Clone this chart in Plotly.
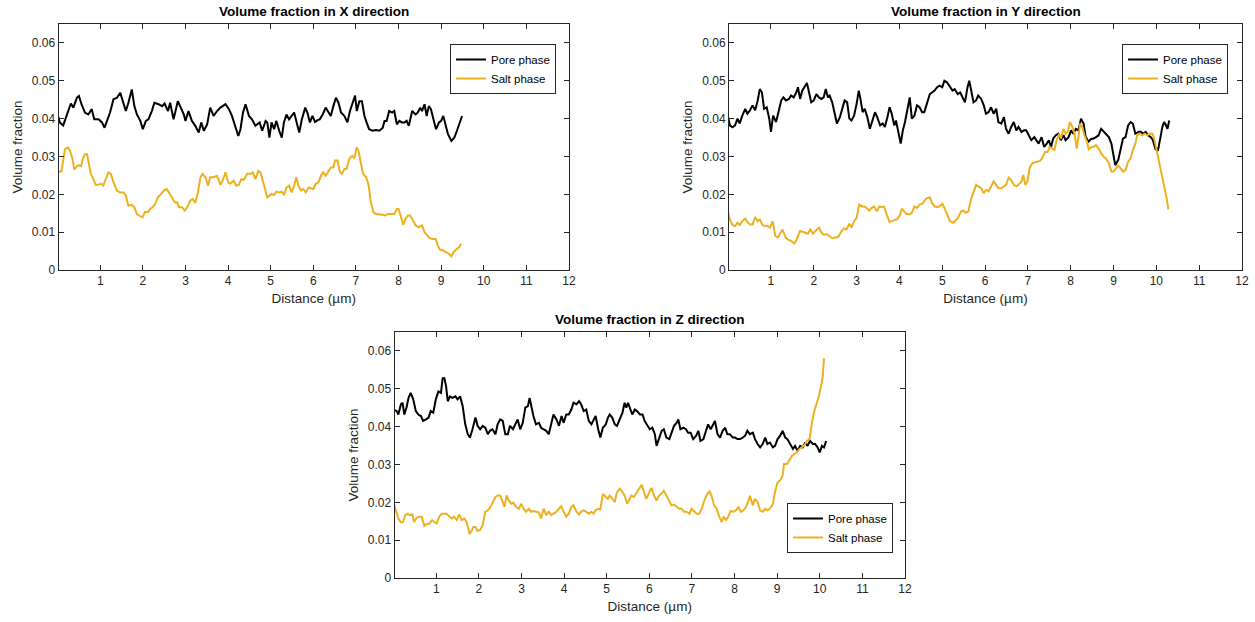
import plotly.graph_objects as go

# ---------------- data (distance in µm, volume fraction) ----------------
PORE_X_DIST = [
0.00,0.05,0.13,0.21,0.27,0.31,0.37,0.45,0.50,0.56,
0.64,0.72,0.80,0.86,0.96,1.04,1.10,1.18,1.23,1.31,
1.39,1.47,1.52,1.60,1.66,1.74,1.80,1.86,1.94,2.00,
2.07,2.13,2.21,2.27,2.37,2.45,2.51,2.59,2.64,2.72,
2.82,2.90,2.96,3.00,3.07,3.15,3.23,3.31,3.37,3.43,
3.51,3.58,3.66,3.74,3.82,3.94,4.02,4.09,4.17,4.24,
4.29,4.35,4.41,4.49,4.56,4.64,4.74,4.80,4.88,4.92,
4.97,5.02,5.08,5.13,5.20,5.26,5.31,5.37,5.43,5.49,
5.55,5.60,5.67,5.73,5.81,5.86,5.92,5.98,6.04,6.10,
6.15,6.22,6.29,6.36,6.41,6.47,6.53,6.59,6.65,6.73,
6.80,6.86,6.92,6.98,7.02,7.08,7.14,7.20,7.25,7.31,
7.39,7.47,7.55,7.63,7.67,7.72,7.78,7.85,7.90,7.96,
8.02,8.08,8.14,8.19,8.24,8.32,8.40,8.45,8.51,8.55,
8.61,8.66,8.71,8.76,8.82,8.88,8.95,9.00,9.05,9.10,
9.16,9.24,9.31,9.37,9.43,9.49]
PORE_X_VAL = [
0.0411,0.0390,0.0382,0.0407,0.0425,0.0440,0.0429,0.0455,0.0460,0.0438,
0.0416,0.0411,0.0425,0.0398,0.0398,0.0390,0.0376,0.0403,0.0416,0.0451,
0.0455,0.0468,0.0451,0.0420,0.0442,0.0477,0.0433,0.0411,0.0394,0.0372,
0.0394,0.0398,0.0420,0.0442,0.0438,0.0433,0.0440,0.0420,0.0442,0.0398,
0.0446,0.0425,0.0411,0.0394,0.0420,0.0394,0.0381,0.0363,0.0390,0.0368,
0.0385,0.0429,0.0407,0.0420,0.0429,0.0438,0.0425,0.0407,0.0376,0.0354,
0.0372,0.0416,0.0438,0.0407,0.0398,0.0381,0.0390,0.0368,0.0394,0.0390,
0.0350,0.0390,0.0372,0.0394,0.0368,0.0350,0.0390,0.0411,0.0398,0.0407,
0.0416,0.0394,0.0363,0.0398,0.0429,0.0416,0.0390,0.0407,0.0391,0.0396,
0.0398,0.0411,0.0429,0.0416,0.0407,0.0433,0.0455,0.0442,0.0416,0.0407,
0.0390,0.0420,0.0438,0.0461,0.0420,0.0446,0.0446,0.0407,0.0390,0.0372,
0.0368,0.0370,0.0368,0.0376,0.0394,0.0394,0.0420,0.0416,0.0420,0.0385,
0.0394,0.0390,0.0390,0.0394,0.0381,0.0420,0.0411,0.0416,0.0429,0.0420,
0.0438,0.0407,0.0433,0.0425,0.0398,0.0372,0.0390,0.0394,0.0407,0.0385,
0.0359,0.0341,0.0350,0.0368,0.0385,0.0407]

SALT_X_DIST = [
0.00,0.09,0.17,0.24,0.29,0.35,0.39,0.45,0.50,0.55,
0.59,0.64,0.69,0.74,0.78,0.84,0.89,0.96,1.02,1.07,
1.13,1.19,1.25,1.31,1.39,1.47,1.55,1.60,1.66,1.74,
1.80,1.86,1.94,1.99,2.05,2.12,2.17,2.23,2.29,2.35,
2.43,2.49,2.56,2.62,2.68,2.75,2.80,2.85,2.92,2.98,
3.04,3.11,3.17,3.23,3.29,3.35,3.40,3.47,3.53,3.58,
3.66,3.74,3.82,3.87,3.94,4.00,4.05,4.13,4.19,4.25,
4.31,4.37,4.45,4.53,4.58,4.64,4.71,4.76,4.84,4.92,
5.02,5.08,5.13,5.20,5.26,5.31,5.37,5.43,5.49,5.55,
5.60,5.65,5.71,5.76,5.82,5.89,5.94,6.00,6.06,6.12,
6.18,6.23,6.29,6.36,6.41,6.47,6.51,6.57,6.62,6.67,
6.73,6.78,6.84,6.91,6.96,7.02,7.06,7.12,7.17,7.24,
7.30,7.35,7.41,7.47,7.55,7.63,7.69,7.75,7.82,7.90,
7.96,8.00,8.06,8.11,8.16,8.22,8.27,8.33,8.40,8.47,
8.55,8.61,8.66,8.73,8.80,8.87,8.92,8.98,9.04,9.12,
9.18,9.24,9.29,9.35,9.42,9.47]
SALT_X_VAL = [
0.0260,0.0260,0.0319,0.0324,0.0315,0.0293,0.0265,0.0274,0.0277,0.0274,
0.0293,0.0306,0.0306,0.0280,0.0254,0.0240,0.0225,0.0225,0.0228,0.0223,
0.0240,0.0258,0.0254,0.0232,0.0210,0.0205,0.0205,0.0196,0.0170,0.0172,
0.0166,0.0148,0.0142,0.0139,0.0154,0.0153,0.0161,0.0166,0.0175,0.0192,
0.0201,0.0210,0.0214,0.0201,0.0192,0.0179,0.0179,0.0166,0.0166,0.0157,
0.0166,0.0183,0.0188,0.0177,0.0205,0.0245,0.0254,0.0245,0.0223,0.0245,
0.0245,0.0249,0.0225,0.0236,0.0258,0.0232,0.0228,0.0236,0.0223,0.0225,
0.0240,0.0238,0.0254,0.0254,0.0258,0.0240,0.0262,0.0258,0.0228,0.0192,
0.0201,0.0198,0.0207,0.0205,0.0207,0.0198,0.0218,0.0223,0.0205,0.0223,
0.0245,0.0223,0.0210,0.0214,0.0205,0.0218,0.0216,0.0214,0.0228,0.0232,
0.0249,0.0258,0.0249,0.0262,0.0271,0.0271,0.0289,0.0289,0.0260,0.0254,
0.0267,0.0267,0.0293,0.0302,0.0295,0.0324,0.0315,0.0280,0.0254,0.0245,
0.0223,0.0179,0.0153,0.0148,0.0148,0.0146,0.0144,0.0148,0.0148,0.0148,
0.0161,0.0161,0.0139,0.0119,0.0135,0.0144,0.0144,0.0131,0.0118,0.0113,
0.0118,0.0100,0.0093,0.0084,0.0082,0.0082,0.0065,0.0052,0.0052,0.0047,
0.0043,0.0036,0.0047,0.0054,0.0060,0.0069]

PORE_Y_DIST = [
0.00,0.04,0.10,0.16,0.22,0.27,0.33,0.40,0.45,0.51,
0.57,0.63,0.69,0.74,0.79,0.84,0.90,0.96,1.00,1.05,
1.12,1.18,1.24,1.29,1.35,1.42,1.47,1.53,1.59,1.63,
1.68,1.73,1.78,1.84,1.89,1.94,2.00,2.06,2.12,2.18,
2.23,2.28,2.33,2.37,2.43,2.49,2.54,2.61,2.67,2.72,
2.78,2.83,2.88,2.94,3.00,3.05,3.09,3.14,3.19,3.25,
3.31,3.37,3.43,3.48,3.55,3.61,3.66,3.72,3.77,3.82,
3.88,3.92,3.98,4.03,4.08,4.13,4.19,4.24,4.29,4.35,
4.41,4.47,4.53,4.58,4.64,4.71,4.76,4.82,4.88,4.94,
5.00,5.05,5.11,5.18,5.24,5.29,5.36,5.42,5.47,5.53,
5.59,5.63,5.67,5.73,5.79,5.84,5.91,5.97,6.02,6.08,
6.14,6.20,6.26,6.31,6.38,6.44,6.49,6.55,6.61,6.67,
6.73,6.78,6.85,6.91,6.96,7.02,7.08,7.15,7.20,7.25,
7.32,7.38,7.44,7.49,7.54,7.59,7.65,7.71,7.77,7.83,
7.88,7.95,8.01,8.06,8.12,8.18,8.24,8.30,8.35,8.42,
8.48,8.53,8.59,8.65,8.71,8.77,8.82,8.89,8.95,9.00,
9.04,9.11,9.16,9.22,9.28,9.34,9.40,9.45,9.51,9.58,
9.63,9.69,9.75,9.81,9.87,9.92,9.98,10.04,10.09,10.14,
10.18,10.22,10.26,10.30]
PORE_Y_VAL = [
0.0404,0.0382,0.0377,0.0382,0.0400,0.0387,0.0408,0.0426,0.0413,0.0422,
0.0435,0.0422,0.0448,0.0478,0.0469,0.0426,0.0430,0.0400,0.0365,0.0408,
0.0391,0.0417,0.0448,0.0456,0.0448,0.0452,0.0461,0.0456,0.0469,0.0483,
0.0452,0.0474,0.0483,0.0494,0.0469,0.0443,0.0448,0.0465,0.0456,0.0452,
0.0456,0.0478,0.0456,0.0461,0.0443,0.0408,0.0387,0.0404,0.0430,0.0448,
0.0443,0.0400,0.0395,0.0408,0.0439,0.0474,0.0452,0.0417,0.0426,0.0404,
0.0373,0.0395,0.0417,0.0404,0.0382,0.0387,0.0378,0.0404,0.0430,0.0413,
0.0382,0.0395,0.0360,0.0334,0.0369,0.0391,0.0426,0.0456,0.0400,0.0408,
0.0435,0.0430,0.0417,0.0417,0.0439,0.0465,0.0469,0.0474,0.0483,0.0487,
0.0483,0.0500,0.0496,0.0483,0.0474,0.0478,0.0465,0.0469,0.0456,0.0443,
0.0483,0.0500,0.0478,0.0443,0.0448,0.0461,0.0452,0.0435,0.0413,0.0417,
0.0430,0.0413,0.0426,0.0391,0.0387,0.0404,0.0373,0.0360,0.0378,0.0391,
0.0369,0.0378,0.0365,0.0369,0.0369,0.0356,0.0343,0.0351,0.0343,0.0334,
0.0351,0.0325,0.0334,0.0343,0.0325,0.0347,0.0356,0.0360,0.0343,0.0356,
0.0343,0.0351,0.0369,0.0360,0.0373,0.0369,0.0400,0.0387,0.0351,0.0339,
0.0347,0.0347,0.0351,0.0356,0.0373,0.0365,0.0360,0.0351,0.0334,0.0299,
0.0277,0.0291,0.0321,0.0347,0.0351,0.0382,0.0391,0.0387,0.0360,0.0365,
0.0366,0.0360,0.0365,0.0356,0.0351,0.0343,0.0319,0.0317,0.0347,0.0378,
0.0391,0.0384,0.0373,0.0395]

SALT_Y_DIST = [
0.00,0.04,0.10,0.16,0.22,0.27,0.33,0.40,0.45,0.51,
0.57,0.63,0.69,0.74,0.80,0.87,0.92,0.98,1.04,1.10,
1.16,1.21,1.27,1.34,1.39,1.47,1.55,1.60,1.68,1.74,
1.81,1.86,1.92,1.98,2.04,2.12,2.18,2.23,2.31,2.37,
2.43,2.51,2.57,2.65,2.70,2.76,2.83,2.88,2.94,3.00,
3.06,3.12,3.17,3.23,3.30,3.35,3.41,3.47,3.53,3.59,
3.64,3.70,3.77,3.82,3.88,3.94,4.00,4.06,4.11,4.17,
4.24,4.29,4.35,4.41,4.47,4.53,4.58,4.64,4.71,4.76,
4.82,4.88,4.94,5.00,5.05,5.11,5.18,5.26,5.32,5.37,
5.44,5.50,5.55,5.61,5.67,5.73,5.79,5.84,5.91,5.97,
6.02,6.08,6.14,6.20,6.26,6.31,6.38,6.44,6.49,6.55,
6.61,6.67,6.73,6.78,6.85,6.89,6.94,6.99,7.04,7.10,
7.16,7.22,7.28,7.33,7.40,7.46,7.51,7.57,7.62,7.67,
7.73,7.77,7.83,7.88,7.93,7.98,8.04,8.09,8.14,8.18,
8.22,8.27,8.32,8.38,8.42,8.48,8.53,8.59,8.65,8.71,
8.77,8.82,8.89,8.95,9.00,9.06,9.11,9.16,9.22,9.28,
9.34,9.40,9.45,9.51,9.55,9.61,9.67,9.73,9.79,9.84,
9.91,9.95,10.00,10.06,10.13,10.18,10.24,10.28]
SALT_Y_VAL = [
0.0151,0.0134,0.0119,0.0116,0.0125,0.0119,0.0129,0.0136,0.0127,0.0120,
0.0120,0.0140,0.0129,0.0134,0.0119,0.0116,0.0116,0.0112,0.0129,0.0090,
0.0086,0.0094,0.0107,0.0086,0.0081,0.0077,0.0070,0.0081,0.0103,0.0101,
0.0099,0.0096,0.0107,0.0096,0.0103,0.0112,0.0099,0.0094,0.0094,0.0090,
0.0084,0.0086,0.0087,0.0103,0.0110,0.0107,0.0122,0.0112,0.0129,0.0138,
0.0173,0.0168,0.0168,0.0164,0.0157,0.0164,0.0168,0.0155,0.0168,0.0166,
0.0168,0.0147,0.0127,0.0129,0.0131,0.0134,0.0142,0.0162,0.0155,0.0148,
0.0147,0.0151,0.0168,0.0164,0.0173,0.0175,0.0182,0.0190,0.0192,0.0177,
0.0168,0.0166,0.0168,0.0175,0.0164,0.0147,0.0129,0.0125,0.0131,0.0138,
0.0155,0.0157,0.0151,0.0155,0.0186,0.0208,0.0225,0.0221,0.0216,0.0203,
0.0212,0.0208,0.0221,0.0234,0.0225,0.0216,0.0216,0.0221,0.0225,0.0244,
0.0238,0.0225,0.0221,0.0225,0.0234,0.0251,0.0225,0.0234,0.0269,0.0282,
0.0284,0.0286,0.0288,0.0295,0.0312,0.0312,0.0325,0.0321,0.0317,0.0343,
0.0360,0.0347,0.0373,0.0360,0.0365,0.0391,0.0378,0.0360,0.0321,0.0351,
0.0387,0.0378,0.0356,0.0339,0.0319,0.0325,0.0325,0.0330,0.0321,0.0308,
0.0299,0.0295,0.0282,0.0260,0.0260,0.0269,0.0276,0.0269,0.0260,0.0264,
0.0286,0.0295,0.0317,0.0334,0.0356,0.0360,0.0356,0.0360,0.0356,0.0360,
0.0360,0.0347,0.0321,0.0286,0.0251,0.0221,0.0190,0.0160]

PORE_Z_DIST = [
0.00,0.07,0.11,0.17,0.21,0.25,0.30,0.35,0.40,0.46,
0.52,0.58,0.64,0.69,0.76,0.82,0.87,0.93,0.99,1.05,
1.11,1.15,1.19,1.23,1.27,1.32,1.38,1.45,1.50,1.56,
1.62,1.68,1.74,1.79,1.85,1.92,1.97,2.03,2.09,2.15,
2.21,2.26,2.32,2.39,2.44,2.50,2.56,2.62,2.68,2.73,
2.80,2.86,2.91,2.97,3.03,3.09,3.15,3.19,3.23,3.28,
3.34,3.41,3.46,3.52,3.58,3.64,3.70,3.75,3.82,3.88,
3.94,3.99,4.05,4.11,4.17,4.22,4.29,4.35,4.40,4.46,
4.52,4.58,4.64,4.69,4.74,4.80,4.85,4.91,4.98,5.03,
5.07,5.13,5.19,5.24,5.31,5.37,5.42,5.46,5.50,5.56,
5.60,5.66,5.71,5.78,5.84,5.89,5.95,6.01,6.07,6.13,
6.17,6.23,6.29,6.34,6.40,6.47,6.52,6.58,6.64,6.68,
6.73,6.80,6.86,6.91,6.97,7.03,7.10,7.15,7.20,7.27,
7.33,7.38,7.44,7.50,7.54,7.60,7.66,7.72,7.78,7.83,
7.89,7.96,8.01,8.07,8.13,8.19,8.25,8.30,8.36,8.43,
8.48,8.54,8.60,8.66,8.72,8.77,8.83,8.90,8.95,9.01,
9.07,9.13,9.19,9.24,9.30,9.37,9.42,9.48,9.54,9.60,
9.66,9.71,9.77,9.84,9.89,9.95,10.00,10.05,10.10,10.15]
PORE_Z_VAL = [
0.0445,0.0441,0.0432,0.0459,0.0463,0.0432,0.0450,0.0476,0.0489,0.0472,
0.0441,0.0432,0.0428,0.0415,0.0419,0.0424,0.0441,0.0437,0.0472,0.0493,
0.0489,0.0528,0.0528,0.0507,0.0467,0.0480,0.0476,0.0480,0.0472,0.0480,
0.0454,0.0406,0.0380,0.0371,0.0393,0.0424,0.0402,0.0393,0.0402,0.0397,
0.0380,0.0389,0.0393,0.0380,0.0406,0.0419,0.0415,0.0380,0.0380,0.0402,
0.0393,0.0410,0.0419,0.0393,0.0410,0.0450,0.0454,0.0476,0.0454,0.0428,
0.0406,0.0410,0.0397,0.0393,0.0389,0.0380,0.0406,0.0432,0.0419,0.0402,
0.0428,0.0410,0.0432,0.0432,0.0445,0.0463,0.0459,0.0467,0.0459,0.0441,
0.0445,0.0415,0.0406,0.0419,0.0428,0.0393,0.0371,0.0397,0.0406,0.0424,
0.0432,0.0424,0.0406,0.0402,0.0419,0.0437,0.0463,0.0450,0.0463,0.0445,
0.0432,0.0445,0.0441,0.0432,0.0432,0.0415,0.0402,0.0393,0.0397,0.0380,
0.0349,0.0371,0.0389,0.0393,0.0371,0.0367,0.0384,0.0402,0.0410,0.0419,
0.0393,0.0397,0.0393,0.0384,0.0384,0.0367,0.0376,0.0389,0.0362,0.0367,
0.0389,0.0406,0.0393,0.0406,0.0415,0.0380,0.0371,0.0389,0.0397,0.0380,
0.0380,0.0371,0.0371,0.0367,0.0367,0.0371,0.0376,0.0389,0.0380,0.0384,
0.0367,0.0354,0.0345,0.0354,0.0371,0.0354,0.0358,0.0345,0.0349,0.0367,
0.0376,0.0389,0.0371,0.0367,0.0354,0.0341,0.0349,0.0336,0.0349,0.0345,
0.0358,0.0349,0.0362,0.0354,0.0354,0.0345,0.0332,0.0349,0.0345,0.0362]

SALT_Z_DIST = [
0.00,0.07,0.11,0.17,0.22,0.27,0.33,0.38,0.44,0.48,
0.54,0.60,0.66,0.72,0.77,0.84,0.90,0.95,1.01,1.07,
1.13,1.19,1.24,1.31,1.37,1.42,1.48,1.54,1.60,1.66,
1.71,1.78,1.82,1.87,1.92,1.97,2.03,2.09,2.15,2.21,
2.26,2.33,2.39,2.44,2.50,2.56,2.60,2.65,2.70,2.76,
2.81,2.87,2.94,2.99,3.05,3.11,3.17,3.23,3.28,3.35,
3.41,3.46,3.52,3.58,3.64,3.70,3.75,3.82,3.88,3.93,
3.99,4.05,4.11,4.17,4.22,4.29,4.35,4.40,4.46,4.52,
4.58,4.64,4.69,4.74,4.80,4.85,4.91,4.98,5.03,5.07,
5.13,5.19,5.24,5.31,5.37,5.42,5.48,5.53,5.58,5.64,
5.70,5.76,5.82,5.87,5.93,6.00,6.05,6.11,6.17,6.23,
6.29,6.34,6.40,6.47,6.52,6.58,6.64,6.70,6.76,6.81,
6.87,6.94,6.99,7.05,7.11,7.17,7.23,7.28,7.34,7.41,
7.46,7.52,7.58,7.64,7.70,7.74,7.80,7.85,7.91,7.97,
8.04,8.09,8.15,8.21,8.27,8.33,8.36,8.43,8.48,8.54,
8.60,8.66,8.72,8.77,8.83,8.90,8.95,9.01,9.07,9.13,
9.16,9.23,9.29,9.35,9.40,9.46,9.52,9.58,9.64,9.70,
9.76,9.81,9.87,9.92,9.97,10.03,10.07,10.10]
SALT_Z_VAL = [
0.0199,0.0175,0.0157,0.0147,0.0148,0.0166,0.0170,0.0166,0.0168,0.0148,
0.0159,0.0162,0.0162,0.0138,0.0142,0.0144,0.0153,0.0148,0.0144,0.0162,
0.0170,0.0170,0.0170,0.0162,0.0157,0.0162,0.0153,0.0168,0.0153,0.0157,
0.0148,0.0118,0.0122,0.0135,0.0135,0.0124,0.0127,0.0140,0.0175,0.0179,
0.0185,0.0201,0.0214,0.0218,0.0218,0.0201,0.0188,0.0218,0.0205,0.0196,
0.0199,0.0188,0.0183,0.0196,0.0183,0.0175,0.0183,0.0175,0.0177,0.0175,
0.0173,0.0157,0.0183,0.0166,0.0175,0.0166,0.0170,0.0175,0.0183,0.0190,
0.0175,0.0162,0.0170,0.0188,0.0192,0.0175,0.0168,0.0175,0.0179,0.0175,
0.0170,0.0175,0.0170,0.0179,0.0183,0.0181,0.0222,0.0214,0.0209,0.0218,
0.0209,0.0201,0.0227,0.0236,0.0227,0.0218,0.0196,0.0209,0.0218,0.0214,
0.0227,0.0236,0.0246,0.0227,0.0209,0.0227,0.0238,0.0218,0.0205,0.0218,
0.0223,0.0231,0.0218,0.0201,0.0192,0.0194,0.0188,0.0183,0.0183,0.0175,
0.0175,0.0170,0.0183,0.0175,0.0170,0.0170,0.0183,0.0201,0.0218,0.0229,
0.0218,0.0192,0.0183,0.0162,0.0148,0.0162,0.0153,0.0162,0.0177,0.0175,
0.0179,0.0188,0.0175,0.0179,0.0188,0.0205,0.0217,0.0192,0.0209,0.0201,
0.0179,0.0175,0.0183,0.0179,0.0183,0.0196,0.0227,0.0253,0.0258,0.0271,
0.0301,0.0301,0.0314,0.0323,0.0327,0.0332,0.0340,0.0345,0.0351,0.0362,
0.0367,0.0406,0.0441,0.0459,0.0476,0.0507,0.0533,0.0581]

TITLES = ["Volume fraction in X direction", "Volume fraction in Y direction",
          "Volume fraction in Z direction"]
SERIES_NAMES = ["Pore phase", "Salt phase"]
X_TICKS = [1, 2, 3, 4, 5, 6, 7, 8, 9, 10, 11, 12]
Y_TICKS = [0, 0.01, 0.02, 0.03, 0.04, 0.05, 0.06]
Y_TICK_TEXT = ["0", "0.01", "0.02", "0.03", "0.04", "0.05", "0.06"]

# ---------------- styling ----------------
W, H = 1255, 622
FONT = "Liberation Sans, Arial, Helvetica, sans-serif"
AX_COL = "#262626"
PORE_COL = "#000000"
SALT_COL = "#EDB120"

# panel pixel boxes: (left, right, top, bottom)
PANELS = [(58.5, 569, 24, 270), (729, 1242, 24, 270), (394.5, 905, 332, 578)]
LEGEND_POS = [(556, 44), (1228, 44), (893, 503)]

data = [(PORE_X_DIST, PORE_X_VAL, SALT_X_DIST, SALT_X_VAL),
        (PORE_Y_DIST, PORE_Y_VAL, SALT_Y_DIST, SALT_Y_VAL),
        (PORE_Z_DIST, PORE_Z_VAL, SALT_Z_DIST, SALT_Z_VAL)]

fig = go.Figure()
layout = dict(width=W, height=H, margin=dict(l=0, r=0, t=0, b=0),
              paper_bgcolor="white", plot_bgcolor="white",
              font=dict(family=FONT, color=AX_COL), annotations=[])

for i, (pd_, pv, sd, sv) in enumerate(data):
    n = "" if i == 0 else str(i + 1)
    leg = "legend" if i == 0 else "legend" + str(i + 1)
    fig.add_trace(go.Scatter(x=pd_, y=pv, mode="lines", name=SERIES_NAMES[0],
                             line=dict(color=PORE_COL, width=2),
                             xaxis="x" + n, yaxis="y" + n, legend=leg))
    fig.add_trace(go.Scatter(x=sd, y=sv, mode="lines", name=SERIES_NAMES[1],
                             line=dict(color=SALT_COL, width=2),
                             xaxis="x" + n, yaxis="y" + n, legend=leg))
    l, r, t, b = PANELS[i]
    common = dict(showline=True, mirror="ticks", linecolor=AX_COL, linewidth=1,
                  ticks="inside", ticklen=5, tickcolor=AX_COL, tickwidth=1,
                  showgrid=False, zeroline=False, automargin=False,
                  tickfont=dict(family=FONT, size=12, color=AX_COL))
    layout["xaxis" + n] = dict(common, domain=[l / W, r / W], anchor="y" + n,
                               range=[0.02, 12], tickvals=X_TICKS,
                               title=dict(text="Distance (µm)", standoff=6,
                                          font=dict(family=FONT, size=13.5, color=AX_COL)))
    layout["yaxis" + n] = dict(common, domain=[1 - b / H, 1 - t / H], anchor="x" + n,
                               range=[0, 0.065], tickvals=Y_TICKS, ticktext=Y_TICK_TEXT,
                               title=dict(text="Volume fraction", standoff=6,
                                          font=dict(family=FONT, size=13.5, color=AX_COL)))
    lx, ly = LEGEND_POS[i]
    layout[leg] = dict(x=lx / W, y=1 - ly / H, xanchor="right", yanchor="top",
                       bordercolor=AX_COL, borderwidth=1, bgcolor="white",
                       font=dict(family=FONT, size=11.5, color="#000000"),
                       tracegroupgap=0, itemwidth=30)
    layout["annotations"].append(dict(
        text="<b>" + TITLES[i] + "</b>", xref="paper", yref="paper",
        x=(l + r) / 2 / W, y=1 - (t - 3) / H, xanchor="center", yanchor="bottom",
        showarrow=False, font=dict(family=FONT, size=13.5, color="#000000")))

fig.update_layout(**layout)
fig.write_html("out.html", config={"displayModeBar": False},
               post_script="document.body.style.margin='0';document.body.style.overflow='hidden';")
